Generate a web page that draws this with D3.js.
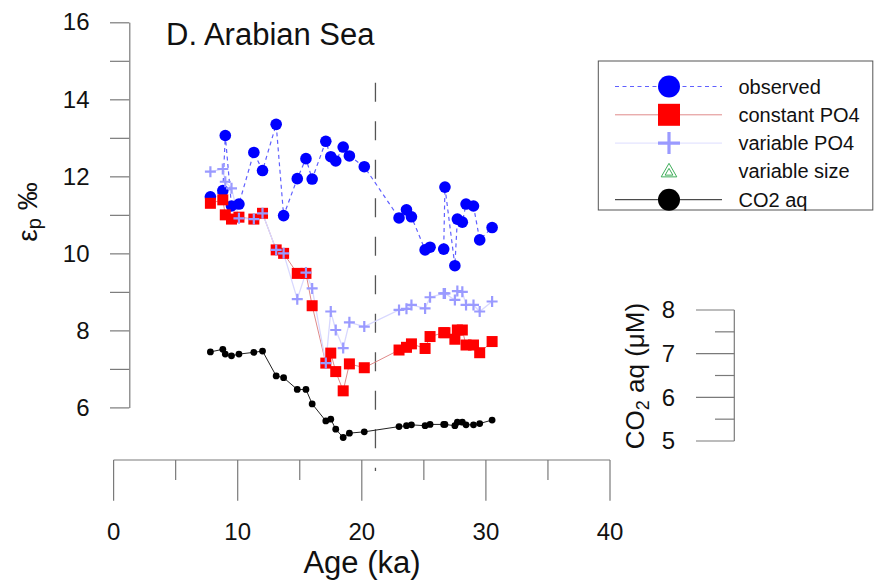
<!DOCTYPE html>
<html>
<head>
<meta charset="utf-8">
<script src="https://cdn.jsdelivr.net/npm/d3@7"></script>
<style>
  html, body { margin: 0; padding: 0; background: #fff; }
  svg { display: block; font-family: "Liberation Sans", Arial, sans-serif; }
</style>
</head>
<body>
<svg id="chart" width="875" height="584"></svg>
<script>
// ---------------- data ----------------
const ages = [7.8, 8.8, 9.0, 9.5, 10.1, 11.3, 12.0, 13.1, 13.7, 14.8, 15.5, 16.0, 17.1, 17.5, 17.9, 18.5, 19.0, 20.2,
              23.0, 23.6, 24.0, 25.1, 25.5, 26.6, 26.7, 27.5, 27.7, 28.1, 28.4, 29.0, 29.5, 30.5];
const observed = [11.47, 11.63, 13.06, 11.23, 11.28, 12.62, 12.15, 13.35, 10.98, 11.94, 12.46, 11.93, 12.91, 12.51, 12.40, 12.76, 12.53, 12.25,
                  10.92, 11.13, 10.95, 10.09, 10.16, 10.11, 11.72, 9.68, 10.89, 10.81, 11.28, 11.23, 10.35, 10.67];
const constantPO4 = [11.30, 11.39, 11.00, 10.89, 10.94, 10.89, 11.04, 10.09, 10.00, 9.48, 9.48, 8.64, 7.15, 7.41, 6.93, 6.43, 7.13, 7.03,
                     7.49, 7.56, 7.65, 7.53, 7.84, 7.94, 7.94, 7.77, 8.01, 8.01, 7.62, 7.62, 7.42, 7.71];
const variablePO4 = [12.12, 12.19, 11.86, 11.69, 10.91, 10.89, 11.04, 10.09, 10.00, 8.81, 9.50, 9.09, 7.15, 8.49, 8.01, 7.54, 8.21, 8.10,
                     8.53, 8.56, 8.66, 8.57, 8.86, 8.96, 8.96, 8.79, 9.02, 9.00, 8.66, 8.66, 8.49, 8.75];
const co2aq = [7.04, 7.10, 6.99, 6.95, 6.99, 7.03, 7.06, 6.49, 6.45, 6.18, 6.18, 5.85, 5.46, 5.50, 5.27, 5.08, 5.18, 5.21,
               5.33, 5.35, 5.37, 5.35, 5.38, 5.38, 5.38, 5.35, 5.43, 5.43, 5.37, 5.37, 5.40, 5.48];

const xTicks = [0, 5, 10, 15, 20, 25, 30, 35, 40];
const xLabels = [0, 10, 20, 30, 40];
const yTicks = [6, 7, 8, 9, 10, 11, 12, 13, 14, 15, 16];
const yLabels = [6, 8, 10, 12, 14, 16];
const y2Ticks = [5, 5.5, 6, 6.5, 7, 7.5, 8];
const y2Labels = [5, 6, 7, 8];
const lgmAge = [21.1];
const lgmRange = [14.43, 4.35];

const legendLabels = ["observed", "constant PO4", "variable PO4", "variable size", "CO2 aq"];

// ---------------- scales ----------------
const svg = d3.select("#chart");
const x = d3.scaleLinear().domain([0, 40]).range([113.6, 610]);
const y = d3.scaleLinear().domain([6, 16]).range([407.4, 22.3]);
const y2 = d3.scaleLinear().domain([5, 8]).range([441, 310]);

const axisCol = "#7a7a7a";
const textCol = "#111";

// ---------------- left axis ----------------
const yAxisX = 129.3;
const gy = svg.append("g").attr("transform", `translate(${yAxisX},0)`)
  .call(d3.axisLeft(y).tickValues(yTicks).tickSize(19.3).tickSizeOuter(0).tickPadding(20.5)
        .tickFormat(d => yLabels.includes(d) ? d : ""));
gy.select(".domain").attr("stroke", axisCol).attr("stroke-width", 1.2);
gy.selectAll(".tick line").attr("stroke", axisCol).attr("stroke-width", 1.2);
gy.selectAll(".tick text").attr("fill", textCol).style("font-size", "24px").style("font-family", "Liberation Sans, Arial, sans-serif");

// ---------------- bottom axis ----------------
const xAxisY = 460;
const gx = svg.append("g").attr("transform", `translate(0,${xAxisY})`);
gx.append("line").attr("x1", x(0)).attr("x2", x(40)).attr("y1", 0).attr("y2", 0)
  .attr("stroke", axisCol).attr("stroke-width", 1.2);
gx.selectAll("line.tk").data(xTicks).join("line").attr("class", "tk")
  .attr("x1", d => x(d)).attr("x2", d => x(d)).attr("y1", 0)
  .attr("y2", d => xLabels.includes(d) ? 40.7 : 20)
  .attr("stroke", axisCol).attr("stroke-width", 1.2);
gx.selectAll("text").data(xLabels).join("text")
  .attr("x", d => x(d)).attr("y", 80).attr("text-anchor", "middle")
  .attr("fill", textCol).style("font-size", "24px").text(d => d);

// ---------------- right axis ----------------
const y2AxisX = 734.3;
const gy2 = svg.append("g");
gy2.append("line").attr("x1", y2AxisX).attr("x2", y2AxisX).attr("y1", y2(5)).attr("y2", y2(8))
  .attr("stroke", axisCol).attr("stroke-width", 1.2);
gy2.selectAll("line.tk").data(y2Ticks).join("line").attr("class", "tk")
  .attr("x1", y2AxisX).attr("y1", d => y2(d)).attr("y2", d => y2(d))
  .attr("x2", d => y2Labels.includes(d) ? y2AxisX - 38.3 : y2AxisX - 19.3)
  .attr("stroke", axisCol).attr("stroke-width", 1.2);
gy2.selectAll("text").data(y2Labels).join("text")
  .attr("x", y2AxisX - 38.3 - 21).attr("y", d => y2(d)).attr("dy", "0.35em")
  .attr("text-anchor", "end").attr("fill", textCol).style("font-size", "24px").text(d => d);

// ---------------- axis titles ----------------
const yt = svg.append("text").attr("transform", "translate(37,212) rotate(-90)")
  .attr("text-anchor", "middle").attr("fill", textCol).style("font-size", "28px");
yt.append("tspan").text("ε");
yt.append("tspan").attr("baseline-shift", "-22%").style("font-size", "20px").text("p");
yt.append("tspan").text(" ‰");

const y2t = svg.append("text").attr("transform", "translate(643.5,376) rotate(-90)")
  .attr("text-anchor", "middle").attr("fill", textCol).style("font-size", "26px");
y2t.append("tspan").text("CO");
y2t.append("tspan").attr("baseline-shift", "-25%").style("font-size", "18px").text("2");
y2t.append("tspan").text(" aq (μM)");

svg.append("text").attr("x", 362).attr("y", 573).attr("text-anchor", "middle")
  .attr("fill", textCol).style("font-size", "31px").text("Age (ka)");

svg.append("text").attr("x", 166).attr("y", 45).attr("fill", textCol)
  .style("font-size", "31px").text("D. Arabian Sea");

// ---------------- LGM dashed line ----------------
svg.selectAll("line.lgm").data(lgmAge).join("line").attr("class", "lgm")
  .attr("x1", d => x(d)).attr("x2", d => x(d))
  .attr("y1", y(lgmRange[0])).attr("y2", y(lgmRange[1]))
  .attr("stroke", "#555").attr("stroke-width", 1.3).attr("stroke-dasharray", "19,19.5");

// ---------------- series ----------------
const obsData = ages.map((a, i) => ({ a, v: observed[i] }));
const conData = ages.map((a, i) => ({ a, v: constantPO4[i] }));
const varData = ages.map((a, i) => ({ a, v: variablePO4[i] }));
const co2Data = ages.map((a, i) => ({ a, v: co2aq[i] }));

const line1 = d3.line().x(d => x(d.a)).y(d => y(d.v));
const line2 = d3.line().x(d => x(d.a)).y(d => y2(d.v));

// observed
svg.append("path").datum(obsData).attr("d", line1).attr("fill", "none")
  .attr("stroke", "#6060ff").attr("stroke-width", 1.2).attr("stroke-dasharray", "4,3.5");
// constant line
svg.append("path").datum(conData).attr("d", line1).attr("fill", "none")
  .attr("stroke", "#e08a8a").attr("stroke-width", 1);
// variable line
svg.append("path").datum(varData).attr("d", line1).attr("fill", "none")
  .attr("stroke", "#d8d8ff").attr("stroke-width", 1.3);
// CO2 line
svg.append("path").datum(co2Data).attr("d", line2).attr("fill", "none")
  .attr("stroke", "#222").attr("stroke-width", 1);

svg.append("g").selectAll("circle").data(obsData).join("circle")
  .attr("cx", d => x(d.a)).attr("cy", d => y(d.v)).attr("r", 5.8).attr("fill", "#0000ff");

const sq = 11;
svg.append("g").selectAll("rect").data(conData).join("rect")
  .attr("x", d => x(d.a) - sq / 2).attr("y", d => y(d.v) - sq / 2)
  .attr("width", sq).attr("height", sq).attr("fill", "#ff0000");

const ph = 5.5;
svg.append("g").selectAll("path").data(varData).join("path")
  .attr("d", d => `M${x(d.a) - ph},${y(d.v)}H${x(d.a) + ph}M${x(d.a)},${y(d.v) - ph}V${y(d.v) + ph}`)
  .attr("stroke", "#9a9aff").attr("stroke-width", 2.2).attr("fill", "none");

svg.append("g").selectAll("circle").data(co2Data).join("circle")
  .attr("cx", d => x(d.a)).attr("cy", d => y2(d.v)).attr("r", 3.4).attr("fill", "#000");

// ---------------- legend ----------------
const lg = svg.append("g");
lg.append("rect").attr("x", 598.3).attr("y", 61).attr("width", 274.5).attr("height", 149)
  .attr("fill", "#fff").attr("stroke", "#555").attr("stroke-width", 1);
const rowY = i => 86.5 + i * 28.3;
const lx1 = 615, lx2 = 722, lcx = 669, ltx = 738.5;

// observed
lg.append("line").attr("x1", lx1).attr("x2", lx2).attr("y1", rowY(0)).attr("y2", rowY(0))
  .attr("stroke", "#6060ff").attr("stroke-width", 1.2).attr("stroke-dasharray", "4,3.5");
lg.append("circle").attr("cx", lcx).attr("cy", rowY(0)).attr("r", 11).attr("fill", "#0000ff");
// constant
lg.append("line").attr("x1", lx1).attr("x2", lx2).attr("y1", rowY(1)).attr("y2", rowY(1))
  .attr("stroke", "#e08a8a").attr("stroke-width", 1);
lg.append("rect").attr("x", lcx - 11).attr("y", rowY(1) - 11).attr("width", 22).attr("height", 22).attr("fill", "#ff0000");
// variable
lg.append("line").attr("x1", lx1).attr("x2", lx2).attr("y1", rowY(2)).attr("y2", rowY(2))
  .attr("stroke", "#e4e4ff").attr("stroke-width", 1.3);
lg.append("path").attr("d", `M${lcx - 11},${rowY(2)}H${lcx + 11}M${lcx},${rowY(2) - 11}V${rowY(2) + 11}`)
  .attr("stroke", "#9a9aff").attr("stroke-width", 3.2).attr("fill", "none");
// variable size triangles
const tri = (cx, cy, s) => `M${cx},${cy - s * 0.62}L${cx + s * 0.6},${cy + s * 0.42}L${cx - s * 0.6},${cy + s * 0.42}Z`;
lg.append("path").attr("d", tri(lcx, rowY(3), 13)).attr("fill", "none").attr("stroke", "#3fae5a").attr("stroke-width", 1);
lg.append("path").attr("d", tri(lcx, rowY(3) + 1, 6.5)).attr("fill", "none").attr("stroke", "#3fae5a").attr("stroke-width", 1);
// CO2
lg.append("line").attr("x1", lx1).attr("x2", lx2).attr("y1", rowY(4)).attr("y2", rowY(4))
  .attr("stroke", "#222").attr("stroke-width", 1);
lg.append("circle").attr("cx", lcx).attr("cy", rowY(4)).attr("r", 11).attr("fill", "#000");

lg.selectAll("text").data(legendLabels).join("text")
  .attr("x", ltx).attr("y", (d, i) => rowY(i)).attr("dy", "0.35em")
  .attr("fill", textCol).style("font-size", "20px").text(d => d);
</script>
</body>
</html>
